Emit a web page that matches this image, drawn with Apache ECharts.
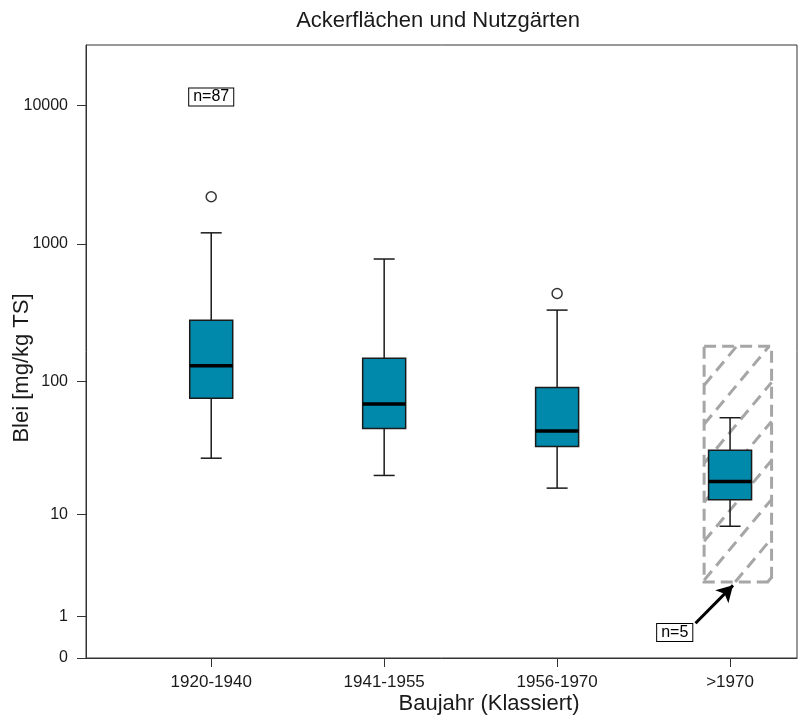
<!DOCTYPE html>
<html>
<head>
<meta charset="utf-8">
<script src="https://cdn.jsdelivr.net/npm/echarts@6/dist/echarts.min.js"></script>
<style>html,body{margin:0;padding:0;background:#fff;}#c{width:801px;height:720px;}</style>
</head>
<body>
<div id="c"></div>
<script>
// ---- data ----
const categories = ['1920-1940', '1941-1955', '1956-1970', '>1970'];
const whiskerLow  = [27, 20, 16, 8];
const q1          = [75, 45, 33, 13];
const median      = [130, 68, 43, 18];
const q3          = [278, 147, 90, 31];
const whiskerHigh = [1200, 775, 330, 54];
const outlierCat   = [0, 2];
const outlierValue = [2190, 436];
const yTickValues = [0, 1, 10, 100, 1000, 10000];
const sampleSizes = ['n=87', 'n=5'];

// log10(v+1) transform used by the y scale
const tf = v => Math.log10(v + 1);
const inv = t => Math.round(Math.pow(10, t) - 1);

const boxData = categories.map((c, i) => [i + 1, tf(whiskerLow[i]), tf(q1[i]), tf(median[i]), tf(q3[i]), tf(whiskerHigh[i])]);
const outlierData = outlierCat.map((c, i) => [c + 1, tf(outlierValue[i])]);

const FONT = '"Liberation Sans", Arial, Helvetica, sans-serif';
const chart = echarts.init(document.getElementById('c'), null, {renderer: 'canvas'});

function renderBox(params, api) {
  const x = api.value(0);
  const lo = api.coord([x, api.value(1)]);
  const b1 = api.coord([x, api.value(2)]);
  const md = api.coord([x, api.value(3)]);
  const b3 = api.coord([x, api.value(4)]);
  const hi = api.coord([x, api.value(5)]);
  const bw = 43, cw = 21;
  const cx = lo[0];
  const line = {stroke: '#1a1a1a', lineWidth: 1.5};
  return {
    type: 'group',
    children: [
      {type: 'line', shape: {x1: cx, y1: hi[1], x2: cx, y2: b3[1]}, style: line},
      {type: 'line', shape: {x1: cx, y1: b1[1], x2: cx, y2: lo[1]}, style: line},
      {type: 'line', shape: {x1: cx - cw / 2, y1: hi[1], x2: cx + cw / 2, y2: hi[1]}, style: line},
      {type: 'line', shape: {x1: cx - cw / 2, y1: lo[1], x2: cx + cw / 2, y2: lo[1]}, style: line},
      {type: 'rect', shape: {x: cx - bw / 2, y: b3[1], width: bw, height: b1[1] - b3[1]},
        style: {fill: '#0089aa', stroke: '#1a1a1a', lineWidth: 1.5}},
      {type: 'line', shape: {x1: cx - bw / 2, y1: md[1], x2: cx + bw / 2, y2: md[1]},
        style: {stroke: '#000', lineWidth: 3.5}}
    ]
  };
}

// annotation anchors (x in axis units, y in mg/kg)
const hatchX = [3.85, 4.24];
const hatchY = [2.55, 180];
const nLabelPos = [[1, 11560], [3.68, 0.53]];
const arrowFrom = [3.80, 0.784];
const arrowTo = [4.017, 2.36];

function renderAnno(params, api) {
  const pA = api.coord([hatchX[0], tf(hatchY[1])]);
  const pB = api.coord([hatchX[1], tf(hatchY[0])]);
  const L = pA[0], T = pA[1], R = pB[0], B = pB[1];
  const W = R - L;
  const s = 1.2, sp = 39;
  const gray = '#a6a6a6';
  const children = [];
  for (let k = 1; k < 20; k++) {
    const yk = T + k * sp;
    let x1, y1, x2, y2;
    if (yk <= B) { x1 = L; y1 = yk; } else { x1 = L + (yk - B) / s; y1 = B; }
    const yr = yk - s * W;
    if (yr >= T) { x2 = R; y2 = yr; } else { x2 = L + (yk - T) / s; y2 = T; }
    if (x1 < x2 && x1 <= R) {
      children.push({type: 'line', shape: {x1, y1, x2, y2},
        style: {stroke: gray, lineWidth: 3, lineDash: [12, 7]}});
    }
  }
  children.push({type: 'rect', shape: {x: L, y: T, width: W, height: B - T},
    style: {fill: null, stroke: gray, lineWidth: 3, lineDash: [12, 6]}});
  nLabelPos.forEach((p, i) => {
    const c = api.coord([p[0], tf(p[1])]);
    children.push({type: 'text', x: c[0], y: c[1],
      style: {text: sampleSizes[i], fill: '#000', font: '16px ' + FONT, align: 'center', verticalAlign: 'middle',
        backgroundColor: '#fff', borderColor: '#000', borderWidth: 1, padding: [1, 4, 0, 4]}});
  });
  return {type: 'group', children};
}

const option = {
  animation: false,
  backgroundColor: '#fff',
  textStyle: {fontFamily: FONT},
  grid: {left: 86, right: 4, top: 45, bottom: 62, show: true, borderColor: '#333', borderWidth: 1, containLabel: false},
  xAxis: {
    type: 'value', min: 0.276, max: 4.387,
    splitLine: {show: false},
    axisLine: {show: true, onZero: false, lineStyle: {color: '#333', width: 1}},
    axisTick: {show: true, length: 9, customValues: [1, 2, 3, 4], lineStyle: {color: '#333'}},
    axisLabel: {customValues: [1, 2, 3, 4], formatter: v => categories[Math.round(v) - 1],
      color: '#1a1a1a', fontSize: 17, fontFamily: FONT, margin: 16}
  },
  yAxis: {
    type: 'value', min: 0, max: 4.44,
    splitLine: {show: false},
    axisLine: {show: true, onZero: false, lineStyle: {color: '#333', width: 1}},
    axisTick: {show: true, length: 9, customValues: yTickValues.map(tf), lineStyle: {color: '#333'}},
    axisLabel: {customValues: yTickValues.map(tf), formatter: v => String(inv(v)),
      color: '#1a1a1a', fontSize: 16, fontFamily: FONT, margin: 18}
  },
  graphic: [
    {type: 'text', x: 438, y: 21, style: {text: 'Ackerflächen und Nutzgärten', fill: '#1a1a1a',
      font: '22px ' + FONT, align: 'center', verticalAlign: 'middle'}},
    {type: 'text', x: 22, y: 368, rotation: Math.PI / 2, style: {text: 'Blei [mg/kg TS]', fill: '#1a1a1a',
      font: '22px ' + FONT, align: 'center', verticalAlign: 'middle'}},
    {type: 'text', x: 489, y: 704, style: {text: 'Baujahr (Klassiert)', fill: '#1a1a1a',
      font: '22px ' + FONT, align: 'center', verticalAlign: 'middle'}}
  ],
  series: [
    {type: 'custom', name: 'hatch', renderItem: renderAnno, data: [[0]], clip: false, silent: true, z: 1,
      markLine: {silent: true, symbol: ['none', 'arrow'], symbolSize: [14, 16], label: {show: false},
        lineStyle: {color: '#000', width: 3, type: 'solid'},
        data: [[{coord: [arrowFrom[0], tf(arrowFrom[1])]}, {coord: [arrowTo[0], tf(arrowTo[1])]}]]}},
    {type: 'custom', name: 'box', renderItem: renderBox, data: boxData, z: 2,
      encode: {x: 0, y: [1, 2, 3, 4, 5]}},
    {type: 'scatter', name: 'outlier', data: outlierData, symbol: 'circle', symbolSize: 10, z: 3,
      itemStyle: {color: '#fff', borderColor: '#000', borderWidth: 1.5}}
  ]
};
chart.setOption(option);
</script>
</body>
</html>
